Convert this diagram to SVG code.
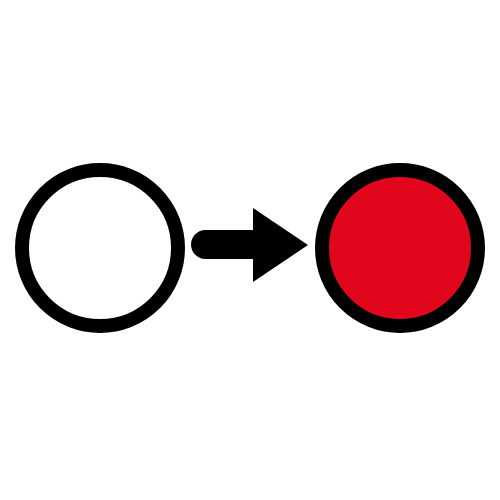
<svg xmlns="http://www.w3.org/2000/svg" width="500" height="500" viewBox="0 0 500 500">
<style>
.node{stroke:#000;stroke-width:14}
</style>
<rect width="500" height="500" fill="#fff"/>
<g id="start"><circle class="node" cx="100" cy="248" r="78" fill="#fff"/></g>
<g id="end"><circle class="node" cx="400" cy="248" r="78" fill="#E2061C"/></g>
<g id="connectors">
<path d="M205.5,230 H256 V259 H205.5 A14.5,14.5 0 0 1 205.5,230 Z" fill="#000"/>
<polygon points="253,208 308,245 253,282" fill="#000"/>
</g>
</svg>
